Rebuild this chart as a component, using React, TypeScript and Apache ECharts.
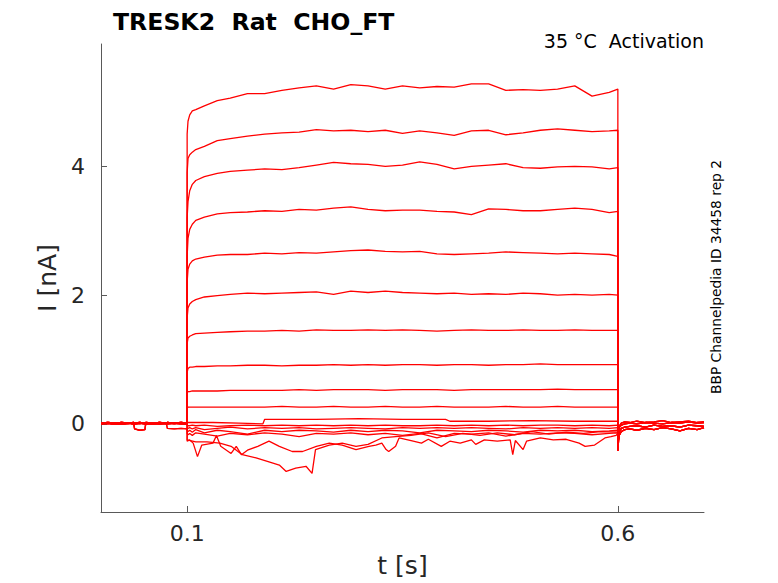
import React, { useEffect, useRef } from 'react'
import * as echarts from 'echarts'

// time bases [s]
const preTimes = [0, 0.008, 0.016, 0.024, 0.032, 0.038, 0.039, 0.045, 0.051, 0.052, 0.06, 0.068, 0.076, 0.077, 0.085, 0.093, 0.1]
const stepTimes = [
  0.1, 0.101, 0.103, 0.106, 0.11, 0.12, 0.135, 0.15, 0.17, 0.19, 0.21, 0.23, 0.25, 0.27, 0.29, 0.31,
  0.33, 0.35, 0.37, 0.39, 0.41, 0.43, 0.45, 0.47, 0.49, 0.51, 0.53, 0.55, 0.57, 0.59, 0.6
]
const postTimes = [0.6, 0.6015, 0.604, 0.608, 0.614, 0.622, 0.632, 0.642, 0.652, 0.662, 0.672, 0.682, 0.692, 0.7]

// holding current before the step [nA]
const preFlat = [0.01, 0.02, 0.01, 0.02, 0.01, 0.02, 0.01, 0.02, 0.01, 0.02, 0.01, 0.02, 0.01, 0.02, 0.01, 0.02, 0.01]
const preZero = [0, 0.01, -0.01, 0, 0.01, 0, 0, 0.01, 0, 0, 0.01, 0, 0.01, 0, 0.01, 0, 0]
const preDip = [0.01, 0, 0.01, 0, 0.01, 0, -0.08, -0.1, -0.09, 0.01, 0, 0.01, 0, 0.01, 0, 0.01, 0]
const preLow = [0, 0.01, 0, -0.01, 0, 0.01, 0, 0, 0.01, 0, -0.01, 0, 0, -0.07, -0.08, -0.07, -0.08]

// tail currents after the step [nA]
const postA = [-0.42, -0.12, -0.07, -0.05, -0.04, -0.03, -0.05, -0.02, -0.04, -0.03, -0.05, -0.02, -0.03, -0.04]
const postB = [-0.2, -0.06, -0.02, 0, 0.01, 0, 0.02, 0.01, 0, 0.02, 0.01, 0.03, 0.01, 0.02]
const postC = [-0.3, -0.18, -0.12, -0.09, -0.08, -0.1, -0.07, -0.09, -0.06, -0.08, -0.11, -0.07, -0.09, -0.06]
const postD = [-0.1, -0.04, 0.01, 0.03, 0.02, 0.04, 0.02, 0.03, 0.05, 0.02, 0.03, 0.04, 0.02, 0.03]

// currents during the voltage step [nA]
const stepI1 = [4.5, 4.7, 4.8, 4.86, 4.88, 4.94, 5.02, 5.06, 5.13, 5.13, 5.18, 5.22, 5.25, 5.2, 5.27, 5.25, 5.2, 5.25, 5.22, 5.24, 5.23, 5.28, 5.28, 5.18, 5.19, 5.18, 5.2, 5.25, 5.09, 5.15, 5.2]
const stepI2 = [3.9, 4.12, 4.18, 4.22, 4.26, 4.31, 4.4, 4.43, 4.47, 4.5, 4.52, 4.53, 4.57, 4.55, 4.56, 4.54, 4.56, 4.51, 4.55, 4.52, 4.48, 4.55, 4.56, 4.49, 4.52, 4.56, 4.58, 4.56, 4.54, 4.55, 4.56]
const stepI3 = [3.2, 3.45, 3.62, 3.72, 3.78, 3.84, 3.89, 3.92, 3.94, 3.96, 3.95, 3.98, 4.02, 4.06, 4.04, 4.03, 4.0, 4.02, 4.07, 4.03, 3.96, 4.0, 4.02, 4.04, 3.98, 3.97, 3.99, 4.0, 3.99, 3.96, 3.98]
const stepI4 = [2.6, 2.88, 3.02, 3.1, 3.16, 3.21, 3.26, 3.28, 3.29, 3.31, 3.3, 3.33, 3.32, 3.35, 3.37, 3.33, 3.31, 3.32, 3.32, 3.3, 3.29, 3.25, 3.34, 3.33, 3.31, 3.31, 3.33, 3.35, 3.33, 3.28, 3.3]
const stepI5 = [2.2, 2.4, 2.48, 2.53, 2.56, 2.59, 2.62, 2.63, 2.63, 2.65, 2.64, 2.66, 2.65, 2.67, 2.69, 2.7, 2.68, 2.67, 2.68, 2.64, 2.63, 2.64, 2.65, 2.67, 2.66, 2.65, 2.64, 2.65, 2.64, 2.63, 2.6]
const stepI6 = [1.65, 1.8, 1.86, 1.9, 1.93, 1.97, 1.99, 2.01, 2.03, 2.02, 2.03, 2.04, 2.05, 2.01, 2.06, 2.04, 2.06, 2.04, 2.03, 2.02, 2.03, 2.01, 2.02, 2.01, 2.03, 2.02, 2.0, 2.01, 2.0, 2.01, 2.0]
const stepI7 = [1.25, 1.33, 1.36, 1.38, 1.4, 1.41, 1.42, 1.43, 1.44, 1.44, 1.45, 1.44, 1.46, 1.45, 1.45, 1.46, 1.45, 1.46, 1.45, 1.44, 1.45, 1.46, 1.45, 1.45, 1.46, 1.45, 1.45, 1.46, 1.45, 1.45, 1.45]
const stepI8 = [0.8, 0.86, 0.88, 0.88, 0.89, 0.89, 0.9, 0.9, 0.91, 0.91, 0.9, 0.91, 0.91, 0.92, 0.91, 0.92, 0.91, 0.92, 0.92, 0.91, 0.92, 0.92, 0.91, 0.92, 0.92, 0.93, 0.92, 0.92, 0.92, 0.92, 0.92]
const stepI9 = [0.48, 0.5, 0.5, 0.51, 0.51, 0.51, 0.51, 0.52, 0.52, 0.52, 0.52, 0.53, 0.52, 0.53, 0.53, 0.53, 0.52, 0.53, 0.53, 0.53, 0.52, 0.53, 0.53, 0.53, 0.53, 0.53, 0.54, 0.53, 0.53, 0.53, 0.53]
const stepI10 = [0.24, 0.26, 0.26, 0.26, 0.26, 0.26, 0.26, 0.26, 0.26, 0.26, 0.27, 0.26, 0.26, 0.27, 0.26, 0.26, 0.27, 0.26, 0.26, 0.27, 0.26, 0.26, 0.26, 0.27, 0.26, 0.26, 0.27, 0.26, 0.26, 0.26, 0.26]
const stepI12 = [-0.02, -0.03, -0.03, -0.02, -0.03, -0.02, -0.04, -0.03, -0.02, -0.03, -0.02, -0.03, -0.02, -0.03, -0.02, -0.03, -0.02, -0.03, -0.03, -0.02, -0.03, -0.02, -0.03, -0.02, -0.03, -0.02, -0.02, -0.03, -0.02, -0.03, -0.02]
const stepI13 = [-0.06, -0.07, -0.06, -0.08, -0.06, -0.09, -0.07, -0.05, -0.08, -0.06, -0.07, -0.06, -0.08, -0.07, -0.06, -0.07, -0.08, -0.06, -0.07, -0.06, -0.07, -0.06, -0.07, -0.08, -0.06, -0.07, -0.06, -0.07, -0.06, -0.07, -0.06]
const stepI14 = [-0.1, -0.12, -0.1, -0.13, -0.09, -0.14, -0.1, -0.12, -0.16, -0.1, -0.12, -0.1, -0.11, -0.13, -0.1, -0.12, -0.1, -0.11, -0.14, -0.1, -0.11, -0.12, -0.1, -0.11, -0.13, -0.1, -0.11, -0.1, -0.12, -0.11, -0.1]
const stepI15 = [-0.15, -0.17, -0.15, -0.18, -0.14, -0.16, -0.19, -0.15, -0.17, -0.14, -0.16, -0.2, -0.15, -0.16, -0.14, -0.17, -0.15, -0.18, -0.15, -0.22, -0.15, -0.16, -0.14, -0.19, -0.15, -0.16, -0.14, -0.15, -0.17, -0.15, -0.14]

// traces with their own sampling [t, I]
const stepI11: number[][] = [
  [0.1, 0.02], [0.13, 0.02], [0.16, 0.01], [0.188, 0], [0.19, 0.07], [0.25, 0.07], [0.3, 0.08],
  [0.35, 0.07], [0.4, 0.07], [0.405, 0.04], [0.45, 0.04], [0.5, 0.05], [0.55, 0.04], [0.6, 0.04]
]
const lowA: number[][] = [
  [0.1, -0.27], [0.103, -0.25], [0.107, -0.3], [0.112, -0.51], [0.117, -0.33], [0.13, -0.3], [0.134, -0.18],
  [0.139, -0.35], [0.151, -0.46], [0.157, -0.35], [0.163, -0.48], [0.17, -0.41], [0.182, -0.35], [0.195, -0.27],
  [0.207, -0.35], [0.222, -0.43], [0.234, -0.43], [0.25, -0.35], [0.265, -0.3], [0.28, -0.33], [0.296, -0.4],
  [0.311, -0.35], [0.319, -0.33], [0.326, -0.3], [0.331, -0.4], [0.334, -0.43], [0.342, -0.35], [0.346, -0.22],
  [0.36, -0.26], [0.372, -0.3], [0.38, -0.24], [0.395, -0.35], [0.405, -0.27], [0.417, -0.3], [0.43, -0.25],
  [0.435, -0.32], [0.445, -0.25], [0.46, -0.27], [0.475, -0.25], [0.478, -0.48], [0.481, -0.26], [0.49, -0.4],
  [0.494, -0.27], [0.51, -0.22], [0.525, -0.25], [0.54, -0.24], [0.555, -0.3], [0.562, -0.35], [0.573, -0.33],
  [0.585, -0.22], [0.592, -0.2], [0.598, -0.18], [0.6, -0.15]
]
const lowB: number[][] = [
  [0.1, -0.25], [0.11, -0.28], [0.123, -0.28], [0.138, -0.3], [0.151, -0.35], [0.164, -0.48], [0.18, -0.53],
  [0.195, -0.59], [0.207, -0.64], [0.215, -0.74], [0.226, -0.69], [0.238, -0.66], [0.245, -0.77], [0.249, -0.4],
  [0.265, -0.33], [0.28, -0.3], [0.296, -0.35], [0.31, -0.32], [0.326, -0.22], [0.342, -0.2], [0.36, -0.18],
  [0.38, -0.14], [0.4, -0.2], [0.42, -0.15], [0.44, -0.18], [0.46, -0.14], [0.48, -0.17], [0.5, -0.12],
  [0.52, -0.16], [0.54, -0.13], [0.56, -0.15], [0.58, -0.12], [0.6, -0.13]
]

const xTicks = [0.1, 0.6]
const yTicks = [0, 2, 4]

const pairs = (ts: number[], vs: number[]) =>
  ts.map((t, i) => [t, vs[i]]).filter(p => p[1] !== undefined)

const sweep = (pre: number[], step: number[][], post: number[]) => [
  ...pairs(preTimes, pre),
  ...step,
  ...pairs(postTimes, post)
]

const sweeps = [
  sweep(preZero, pairs(stepTimes, stepI1), postA),
  sweep(preFlat, pairs(stepTimes, stepI2), postC),
  sweep(preDip, pairs(stepTimes, stepI3), postB),
  sweep(preZero, pairs(stepTimes, stepI4), postA),
  sweep(preFlat, pairs(stepTimes, stepI5), postD),
  sweep(preZero, pairs(stepTimes, stepI6), postC),
  sweep(preFlat, pairs(stepTimes, stepI7), postB),
  sweep(preDip, pairs(stepTimes, stepI8), postA),
  sweep(preZero, pairs(stepTimes, stepI9), postD),
  sweep(preFlat, pairs(stepTimes, stepI10), postB),
  sweep(preZero, stepI11, postD),
  sweep(preFlat, pairs(stepTimes, stepI12), postA),
  sweep(preLow, pairs(stepTimes, stepI13), postC),
  sweep(preZero, pairs(stepTimes, stepI14), postB),
  sweep(preDip, pairs(stepTimes, stepI15), postC),
  sweep(preLow, lowA, postA),
  sweep(preFlat, lowB, postC)
]

const App: React.FC = () => {
  const chartRef = useRef<HTMLDivElement>(null)

  useEffect(() => {
    if (!chartRef.current) return
    document.body.style.margin = '0'

    const chart = echarts.init(chartRef.current, undefined, { renderer: 'svg' })
    const font = 'DejaVu Sans'
    const axisColor = '#595959'
    const labelColor = '#262626'

    const option = {
      animation: false,
      title: {
        text: 'TRESK2  Rat  CHO_FT',
        left: 108,
        top: 5,
        textStyle: { fontFamily: font, fontSize: 23.6, fontWeight: 'bold', color: '#000' }
      },
      grid: { left: 101, right: 74, top: 44, bottom: 71, outerBoundsMode: 'none' },
      xAxis: {
        type: 'value',
        min: 0,
        max: 0.7,
        name: 't [s]',
        nameLocation: 'middle',
        nameGap: 41,
        nameTextStyle: { fontFamily: font, fontSize: 25, color: labelColor },
        axisLine: { onZero: false, lineStyle: { color: axisColor, width: 1 } },
        axisTick: { inside: true, length: 6, customValues: xTicks, lineStyle: { color: axisColor } },
        axisLabel: { customValues: xTicks, margin: 10, fontFamily: font, fontSize: 22, color: labelColor },
        splitLine: { show: false }
      },
      yAxis: {
        type: 'value',
        min: -1.37,
        max: 5.9,
        name: 'I [nA]',
        nameLocation: 'middle',
        nameGap: 37,
        nameTextStyle: { fontFamily: font, fontSize: 25, color: labelColor },
        axisLine: { show: true, onZero: false, lineStyle: { color: axisColor, width: 1 } },
        axisTick: { show: true, inside: true, length: 6, customValues: yTicks, lineStyle: { color: axisColor } },
        axisLabel: { customValues: yTicks, margin: 16, fontFamily: font, fontSize: 22, color: labelColor },
        splitLine: { show: false }
      },
      graphic: [
        {
          type: 'text',
          x: 704,
          y: 41,
          style: {
            text: '35 °C  Activation',
            textAlign: 'right',
            textVerticalAlign: 'middle',
            fontFamily: font,
            fontSize: 19,
            fill: '#000'
          }
        },
        {
          type: 'text',
          x: 716,
          y: 277,
          rotation: Math.PI / 2,
          style: {
            text: 'BBP Channelpedia ID 34458 rep 2',
            textAlign: 'center',
            textVerticalAlign: 'middle',
            fontFamily: font,
            fontSize: 13.8,
            fill: '#000'
          }
        }
      ],
      series: sweeps.map(data => ({
        type: 'line',
        data,
        symbol: 'none',
        showSymbol: false,
        silent: true,
        lineStyle: { color: '#ff0000', width: 1.3 },
        itemStyle: { color: '#ff0000' }
      }))
    }

    chart.setOption(option)

    return () => {
      chart.dispose()
    }
  }, [])

  return <div ref={chartRef} style={{ width: 778, height: 583 }} />
}

export default App
